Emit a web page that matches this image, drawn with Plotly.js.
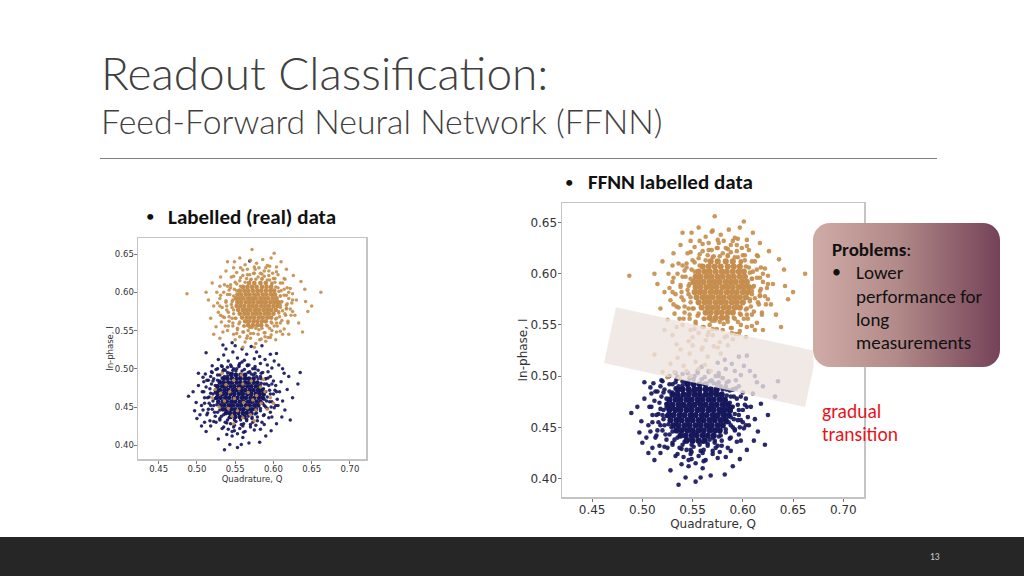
<!DOCTYPE html>
<html>
<head>
<meta charset="utf-8">
<script src="https://cdn.plot.ly/plotly-3.0.1.min.js"></script>
<style>
html,body{margin:0;padding:0;background:#fff;}
#chart{width:1024px;height:576px;}
</style>
</head>
<body>
<div id="chart"></div>
<script>
// ---------------- DATA ----------------
var xTicks = [0.45, 0.50, 0.55, 0.60, 0.65, 0.70];
var yTicks = [0.40, 0.45, 0.50, 0.55, 0.60, 0.65];

// Upper cloud (|1> state), dense core: orange in both labellings
var upperCore = [
 [0.568,0.612],[0.575,0.612],[0.583,0.612],[0.590,0.612],
 [0.560,0.607],[0.566,0.607],[0.572,0.607],[0.578,0.607],[0.585,0.607],[0.591,0.607],[0.597,0.607],
 [0.556,0.602],[0.562,0.602],[0.567,0.602],[0.573,0.602],[0.579,0.602],[0.584,0.602],[0.590,0.602],[0.596,0.602],[0.601,0.602],
 [0.553,0.597],[0.558,0.597],[0.564,0.597],[0.569,0.597],[0.575,0.597],[0.580,0.597],[0.586,0.597],[0.591,0.597],[0.597,0.597],[0.602,0.597],
 [0.551,0.592],[0.556,0.592],[0.561,0.592],[0.567,0.592],[0.572,0.592],[0.577,0.592],[0.583,0.592],[0.588,0.592],[0.593,0.592],[0.599,0.592],[0.604,0.592],
 [0.553,0.587],[0.558,0.587],[0.564,0.587],[0.569,0.587],[0.574,0.587],[0.580,0.587],[0.585,0.587],[0.590,0.587],[0.596,0.587],[0.601,0.587],[0.606,0.587],
 [0.552,0.582],[0.557,0.582],[0.562,0.582],[0.568,0.582],[0.573,0.582],[0.578,0.582],[0.584,0.582],[0.589,0.582],[0.594,0.582],[0.600,0.582],[0.605,0.582],
 [0.554,0.577],[0.560,0.577],[0.565,0.577],[0.570,0.577],[0.576,0.577],[0.581,0.577],[0.587,0.577],[0.592,0.577],[0.597,0.577],[0.603,0.577],
 [0.556,0.572],[0.562,0.572],[0.567,0.572],[0.573,0.572],[0.578,0.572],[0.583,0.572],[0.589,0.572],[0.594,0.572],[0.600,0.572],
 [0.559,0.567],[0.565,0.567],[0.570,0.567],[0.575,0.567],[0.581,0.567],[0.586,0.567],[0.592,0.567],[0.597,0.567],
 [0.563,0.562],[0.568,0.562],[0.574,0.562],[0.579,0.562],[0.585,0.562],[0.590,0.562],
 [0.567,0.557],[0.573,0.557],[0.579,0.557],[0.584,0.557]
];
// Upper cloud, rings around the core
var upperRing = [
 [0.610,0.587],[0.609,0.595],[0.607,0.601],[0.603,0.607],[0.598,0.612],[0.592,0.616],[0.585,0.618],[0.577,0.617],[0.570,0.616],[0.563,0.613],
 [0.557,0.608],[0.552,0.602],[0.548,0.595],[0.546,0.588],[0.546,0.580],[0.548,0.572],[0.551,0.566],[0.556,0.561],[0.562,0.556],[0.569,0.554],
 [0.577,0.553],[0.585,0.553],[0.592,0.556],[0.598,0.560],[0.604,0.566],[0.607,0.573],[0.609,0.580],
 [0.618,0.585],[0.617,0.596],[0.614,0.604],[0.609,0.612],[0.602,0.618],[0.594,0.622],[0.585,0.624],[0.575,0.625],[0.566,0.623],[0.557,0.619],
 [0.550,0.613],[0.544,0.606],[0.540,0.597],[0.538,0.587],[0.539,0.577],[0.542,0.568],[0.547,0.560],[0.553,0.553],[0.561,0.548],[0.570,0.546],
 [0.580,0.545],[0.589,0.547],[0.598,0.550],[0.605,0.556],[0.611,0.563],[0.615,0.572],[0.617,0.579],
 [0.625,0.590],[0.622,0.605],[0.615,0.617],[0.604,0.627],[0.590,0.632],[0.575,0.633],[0.560,0.629],[0.548,0.621],[0.536,0.610],[0.531,0.596],
 [0.530,0.582],[0.534,0.568],[0.541,0.556],[0.552,0.546],[0.565,0.540],[0.582,0.538],[0.596,0.541],[0.609,0.549],[0.619,0.560],[0.625,0.575]
];
// Upper cloud, outer scatter and tails
var upperPts = [
 [0.545,0.620],[0.552,0.626],[0.560,0.622],[0.566,0.630],[0.574,0.625],[0.581,0.632],[0.588,0.621],[0.594,0.628],[0.600,0.618],[0.606,0.623],[0.612,0.612],
 [0.556,0.615],[0.571,0.617],[0.585,0.617],[0.598,0.611],[0.563,0.636],[0.578,0.638],[0.592,0.635],[0.548,0.632],[0.604,0.633],[0.570,0.642],[0.586,0.643],
 [0.540,0.608],[0.535,0.600],[0.543,0.597],[0.538,0.589],[0.545,0.584],[0.533,0.580],[0.541,0.574],[0.546,0.566],[0.536,0.567],[0.530,0.592],[0.544,0.610],
 [0.528,0.574],[0.537,0.556],[0.547,0.556],[0.532,0.561],[0.526,0.600],
 [0.610,0.602],[0.614,0.596],[0.611,0.588],[0.617,0.583],[0.612,0.576],[0.620,0.592],[0.608,0.568],[0.616,0.570],[0.622,0.578],[0.609,0.560],[0.618,0.606],
 [0.625,0.598],[0.624,0.586],[0.614,0.552],[0.628,0.570],[0.619,0.562],[0.630,0.590],
 [0.553,0.551],[0.560,0.548],[0.567,0.550],[0.574,0.546],[0.581,0.551],[0.588,0.547],[0.595,0.553],[0.601,0.556],[0.556,0.542],[0.570,0.540],[0.584,0.539],
 [0.597,0.544],[0.563,0.535],[0.577,0.533],[0.590,0.536],[0.604,0.548],[0.548,0.545],[0.603,0.538],
 [0.549,0.604],[0.547,0.590],[0.548,0.577],[0.550,0.566],[0.555,0.559],[0.561,0.556],[0.591,0.557],[0.597,0.561],[0.603,0.565],[0.607,0.575],[0.609,0.583],
 [0.609,0.595],[0.606,0.606],[0.602,0.613],[0.595,0.616],[0.580,0.620],[0.565,0.618],[0.552,0.611],[0.542,0.603],[0.539,0.582],[0.542,0.562],[0.557,0.632],
 [0.576,0.630],[0.599,0.625],[0.614,0.618],[0.620,0.600],[0.623,0.570],[0.612,0.545],[0.593,0.541],[0.566,0.543],[0.550,0.538],[0.534,0.548],[0.530,0.608],
 [0.527,0.586],[0.531,0.570],[0.588,0.628],[0.583,0.625],[0.569,0.623],[0.617,0.578],[0.604,0.560],[0.540,0.550],[0.589,0.542],[0.572,0.554],[0.595,0.634],
 [0.549,0.640],
 [0.487,0.598],[0.662,0.600],[0.572,0.656],[0.601,0.651],[0.650,0.582],[0.645,0.575],[0.641,0.604],[0.636,0.614],[0.633,0.560],[0.638,0.548],
 [0.520,0.612],[0.515,0.590],[0.522,0.582],[0.518,0.566],[0.525,0.555],[0.531,0.620],[0.538,0.628],[0.540,0.640],[0.556,0.645],[0.597,0.645],
 [0.617,0.630],[0.626,0.622],[0.610,0.640],[0.522,0.545],[0.530,0.540],[0.620,0.545],[0.642,0.588],[0.512,0.600],[0.575,0.528],[0.560,0.528]
];

// Upper-region points truly labelled |0> (blue in real data, orange for the FFNN)
var upperBluePts = [[0.569,0.641],[0.534,0.531],[0.546,0.534]];

// Lower cloud (|0> state), dense core: blue in both labellings
var lowerCore = [
 [0.545,0.492],[0.551,0.492],[0.557,0.492],[0.563,0.492],
 [0.535,0.487],[0.540,0.487],[0.546,0.487],[0.552,0.487],[0.557,0.487],[0.563,0.487],[0.568,0.487],[0.574,0.487],
 [0.530,0.482],[0.535,0.482],[0.541,0.482],[0.546,0.482],[0.552,0.482],[0.557,0.482],[0.563,0.482],[0.568,0.482],[0.574,0.482],[0.579,0.482],
 [0.527,0.477],[0.533,0.477],[0.538,0.477],[0.544,0.477],[0.549,0.477],[0.555,0.477],[0.560,0.477],[0.566,0.477],[0.571,0.477],[0.577,0.477],[0.582,0.477],
 [0.525,0.472],[0.530,0.472],[0.536,0.472],[0.541,0.472],[0.547,0.472],[0.552,0.472],[0.558,0.472],[0.563,0.472],[0.569,0.472],[0.574,0.472],[0.580,0.472],[0.585,0.472],
 [0.527,0.467],[0.533,0.467],[0.538,0.467],[0.544,0.467],[0.549,0.467],[0.555,0.467],[0.560,0.467],[0.566,0.467],[0.571,0.467],[0.577,0.467],[0.582,0.467],[0.587,0.467],
 [0.526,0.462],[0.531,0.462],[0.537,0.462],[0.542,0.462],[0.548,0.462],[0.553,0.462],[0.559,0.462],[0.564,0.462],[0.570,0.462],[0.575,0.462],[0.581,0.462],[0.586,0.462],
 [0.528,0.457],[0.534,0.457],[0.539,0.457],[0.545,0.457],[0.550,0.457],[0.556,0.457],[0.561,0.457],[0.567,0.457],[0.572,0.457],[0.578,0.457],[0.583,0.457],
 [0.531,0.452],[0.536,0.452],[0.542,0.452],[0.547,0.452],[0.553,0.452],[0.558,0.452],[0.564,0.452],[0.569,0.452],[0.575,0.452],[0.580,0.452],
 [0.534,0.447],[0.539,0.447],[0.545,0.447],[0.550,0.447],[0.556,0.447],[0.561,0.447],[0.567,0.447],[0.572,0.447],[0.577,0.447],
 [0.538,0.442],[0.543,0.442],[0.549,0.442],[0.554,0.442],[0.560,0.442],[0.565,0.442],[0.571,0.442],
 [0.544,0.437],[0.550,0.437],[0.556,0.437],[0.562,0.437]
];
// Lower cloud, rings around the core
var lowerRing = [
 [0.588,0.466],[0.587,0.474],[0.584,0.481],[0.580,0.487],[0.574,0.492],[0.567,0.495],[0.559,0.497],[0.551,0.497],[0.543,0.494],[0.536,0.490],
 [0.530,0.484],[0.526,0.477],[0.524,0.469],[0.524,0.461],[0.526,0.453],[0.530,0.446],[0.535,0.440],[0.542,0.436],[0.549,0.433],[0.557,0.433],
 [0.565,0.434],[0.572,0.437],[0.578,0.442],[0.583,0.448],[0.586,0.455],[0.588,0.460],
 [0.596,0.467],[0.594,0.478],[0.590,0.487],[0.584,0.494],[0.576,0.500],[0.566,0.504],[0.555,0.505],[0.545,0.503],[0.535,0.499],[0.527,0.492],
 [0.521,0.484],[0.517,0.474],[0.516,0.463],[0.518,0.452],[0.523,0.443],[0.530,0.435],[0.539,0.429],[0.549,0.426],[0.560,0.425],[0.570,0.427],
 [0.579,0.432],[0.587,0.439],[0.592,0.448],[0.595,0.457],
 [0.604,0.470],[0.600,0.484],[0.593,0.496],[0.509,0.470],[0.510,0.455],[0.514,0.442],[0.522,0.431],[0.533,0.422],[0.546,0.418],[0.561,0.417],
 [0.575,0.420],[0.588,0.427],[0.598,0.437],[0.603,0.452],[0.513,0.485],[0.519,0.496]
];
// Lower cloud, outer scatter and tails
var lowerPts = [
 [0.520,0.495],[0.527,0.500],[0.534,0.497],[0.540,0.502],[0.547,0.498],[0.555,0.503],[0.562,0.499],[0.569,0.496],[0.576,0.494],[0.583,0.490],[0.590,0.487],
 [0.530,0.492],[0.566,0.505],[0.559,0.509],[0.540,0.495],
 [0.515,0.485],[0.512,0.476],[0.518,0.468],[0.510,0.462],[0.516,0.455],[0.520,0.447],[0.513,0.440],[0.519,0.480],[0.507,0.470],[0.521,0.458],[0.506,0.452],
 [0.502,0.478],[0.511,0.493],[0.524,0.438],[0.517,0.432],
 [0.591,0.480],[0.595,0.472],[0.592,0.463],[0.598,0.457],[0.590,0.450],[0.596,0.443],[0.588,0.440],[0.600,0.467],[0.603,0.478],[0.605,0.460],[0.593,0.488],
 [0.608,0.470],[0.601,0.449],[0.610,0.483],[0.612,0.458],
 [0.530,0.433],[0.537,0.430],[0.544,0.428],[0.551,0.431],[0.558,0.427],[0.565,0.432],[0.572,0.435],[0.579,0.437],[0.541,0.421],[0.549,0.419],[0.556,0.422],
 [0.563,0.418],[0.570,0.424],[0.585,0.430],[0.535,0.424],[0.577,0.426],[0.546,0.412],[0.560,0.410],
 [0.522,0.487],[0.524,0.478],[0.521,0.467],[0.522,0.452],[0.527,0.443],[0.532,0.438],[0.540,0.433],[0.567,0.438],[0.576,0.441],[0.583,0.445],[0.588,0.452],
 [0.591,0.458],[0.590,0.470],[0.588,0.480],[0.584,0.487],[0.578,0.490],[0.571,0.493],[0.540,0.491],[0.533,0.488],[0.527,0.485],[0.514,0.462],[0.515,0.447],
 [0.525,0.430],[0.548,0.424],[0.561,0.428],[0.573,0.430],[0.594,0.436],[0.597,0.450],[0.598,0.480],[0.596,0.490],[0.586,0.495],[0.546,0.494],[0.533,0.503],
 [0.518,0.490],[0.509,0.483],[0.508,0.446],[0.583,0.421],[0.553,0.415],[0.539,0.414],[0.602,0.472],[0.606,0.452],[0.552,0.500],[0.573,0.500],[0.580,0.498],
 [0.510,0.430],
 [0.489,0.464],[0.497,0.445],[0.499,0.456],[0.504,0.440],[0.500,0.435],[0.506,0.425],[0.512,0.418],[0.635,0.495],[0.632,0.480],[0.622,0.433],
 [0.615,0.446],[0.618,0.473],[0.625,0.462],[0.620,0.490],[0.536,0.394],[0.543,0.401],[0.558,0.401],[0.568,0.403],[0.582,0.404],[0.597,0.419],
 [0.604,0.428],[0.528,0.408],[0.518,0.425],[0.495,0.470],[0.553,0.397],[0.590,0.412],[0.611,0.437],[0.508,0.489],[0.502,0.494],[0.614,0.494]
];

// Lower-cloud points truly labelled |1> (orange in real data, blue for the FFNN)
var lowerMixPts = [
 [0.538,0.479],[0.548,0.485],[0.560,0.480],[0.571,0.484],[0.583,0.476],[0.531,0.468],[0.543,0.470],[0.555,0.474],[0.567,0.469],[0.578,0.465],
 [0.589,0.470],[0.536,0.458],[0.549,0.461],[0.561,0.456],[0.573,0.459],[0.584,0.455],[0.541,0.448],[0.553,0.445],[0.566,0.449],[0.577,0.446],
 [0.546,0.438],[0.560,0.436],[0.529,0.450],[0.596,0.462],[0.524,0.473],[0.558,0.492],[0.592,0.447],[0.570,0.440],
 [0.520,0.462],[0.533,0.494],[0.587,0.486],[0.600,0.455],[0.548,0.428],[0.575,0.432]
];

// Gap points: blue in real data, orange for the FFNN
var gapPts = [
 [0.528,0.512],[0.535,0.518],[0.541,0.510],[0.547,0.522],[0.553,0.514],[0.559,0.526],[0.565,0.519],[0.571,0.529],[0.538,0.526],[0.544,0.505],
 [0.556,0.507],[0.520,0.504],[0.525,0.499],[0.532,0.504],[0.562,0.511],[0.568,0.505],[0.550,0.530],[0.578,0.522],[0.512,0.521],[0.585,0.530],
 [0.548,0.500],[0.537,0.498]
];

// Gap points: blue in both labellings
var gapBluePts = [
 [0.575,0.513],[0.582,0.516],[0.589,0.512],[0.596,0.519],[0.601,0.510],[0.592,0.505],[0.583,0.507],[0.607,0.505],[0.612,0.500],[0.576,0.503],
 [0.604,0.520],[0.598,0.501]
];

// ---------------- BUILD ----------------
var ORANGE = '#c68e4e', BLUE = '#17175c';
function xs(a){return a.map(function(p){return p[0];});}
function ys(a){return a.map(function(p){return p[1];});}
function cat(){var r=[];for(var k=0;k<arguments.length;k++){r=r.concat(arguments[k]);}return r;}

var realOrange = cat(upperRing, upperPts, lowerMixPts);
var realBlue   = cat(lowerRing, lowerPts, gapPts, gapBluePts, upperBluePts);
var ffnnOrange = cat(upperRing, upperPts, gapPts, upperBluePts);
var ffnnBlue   = cat(lowerRing, lowerPts, lowerMixPts, gapBluePts);

function tr(pts, color, size, op, xa, ya){
  return {type:'scatter', mode:'markers', x:xs(pts), y:ys(pts), xaxis:xa, yaxis:ya,
    marker:{color:color, size:size, opacity:op, line:{width:0}}, hoverinfo:'skip', showlegend:false};
}
var traces = [
  tr(lowerCore, BLUE, 4.8, 1, 'x', 'y'),
  tr(realBlue, BLUE, 3.5, 0.92, 'x', 'y'),
  tr(upperCore, ORANGE, 4.8, 1, 'x', 'y'),
  tr(realOrange, ORANGE, 3.5, 0.92, 'x', 'y'),
  tr(lowerCore, BLUE, 6.2, 1, 'x2', 'y2'),
  tr(ffnnBlue, BLUE, 4.6, 0.92, 'x2', 'y2'),
  tr(upperCore, ORANGE, 6.2, 1, 'x2', 'y2'),
  tr(ffnnOrange, ORANGE, 4.6, 0.92, 'x2', 'y2')
];

function px(x){return x/1024;}
function py(y){return 1-y/576;}

var TXT = 'Carlito, Lato, "Open Sans", sans-serif';
var LIGHT = '"Lato Light", "Lato", sans-serif';
var MPL = '"DejaVu Sans", sans-serif';

function axisCommon(fs){
  return {showgrid:false, zeroline:false, showline:true, mirror:true, linecolor:'#c4c4c4', linewidth:1.5,
    ticks:'outside', ticklen:3, tickcolor:'#777', tickwidth:1, ticklabelstandoff:-2,
    tickfont:{family:MPL, size:fs, color:'#333'}, tickformat:'.2f', fixedrange:true};
}
var xa1 = Object.assign(axisCommon(8.5), {domain:[px(138),px(366)], range:[0.423,0.721], tickvals:xTicks, anchor:'y',
  title:{text:'Quadrature, Q', font:{family:MPL,size:8.5,color:'#333'}, standoff:0}});
var ya1 = Object.assign(axisCommon(8.5), {domain:[py(459),py(238)], range:[0.382,0.671], tickvals:yTicks, anchor:'x',
  title:{text:'In-phase, I', font:{family:MPL,size:8.5,color:'#333'}, standoff:0}});
var xa2 = Object.assign(axisCommon(12), {domain:[px(562),px(864)], range:[0.420,0.7206], tickvals:xTicks, anchor:'y2',
  title:{text:'Quadrature, Q', font:{family:MPL,size:12,color:'#333'}, standoff:0}});
var ya2 = Object.assign(axisCommon(12), {domain:[py(497),py(203)], range:[0.382,0.669], tickvals:yTicks, anchor:'x2',
  title:{text:'In-phase, I', font:{family:MPL,size:12,color:'#333'}, standoff:0}});

// gradient "Problems" box as an SVG image
var boxSvg = "<svg xmlns='http://www.w3.org/2000/svg' width='187' height='144' viewBox='0 0 187 144'>" +
  "<defs><linearGradient id='g' x1='0' y1='0' x2='1' y2='0'>" +
  "<stop offset='0' stop-color='#cfaba6'/><stop offset='0.45' stop-color='#b28a89'/><stop offset='1' stop-color='#744257'/>" +
  "</linearGradient></defs><rect x='0' y='0' width='187' height='144' rx='17' ry='17' fill='url(#g)'/></svg>";
var boxUri = 'data:image/svg+xml;charset=utf-8,' + encodeURIComponent(boxSvg);

function P(x,y){return px(x).toFixed(5)+','+py(y).toFixed(5);}
var bandPath = 'M'+P(616,307.3)+' L'+P(813,350.4)+' L'+P(813.6,367)+' L'+P(805,407)+' L'+P(604,363)+' Z';

var shapes = [
  {type:'line', xref:'paper', yref:'paper', x0:px(100), x1:px(937), y0:py(158.5), y1:py(158.5), line:{color:'#7f7f7f', width:1}},
  {type:'path', xref:'paper', yref:'paper', path:bandPath, fillcolor:'rgba(238,227,224,0.8)', line:{width:0}, layer:'above'},
  {type:'rect', xref:'paper', yref:'paper', x0:0, x1:1, y0:0, y1:py(537), fillcolor:'#262626', line:{width:0}, layer:'above'}
];

function ann(text, x, y, size, opts){
  var a = {text:text, x:px(x), y:py(y), xref:'paper', yref:'paper', xanchor:'left', yanchor:'middle', showarrow:false,
    font:{family:TXT, size:size, color:'#111'}};
  if(opts){ for(var k in opts){ if(k==='color'){a.font.color=opts[k];} else if(k==='weight'){a.font.weight=opts[k];} else if(k==='family'){a.font.family=opts[k];} else {a[k]=opts[k];} } }
  return a;
}
var annotations = [
  ann('Readout Classification:', 99, 72, 46, {color:'#404040', weight:300, family:LIGHT}),
  ann('Feed-Forward Neural Network (FFNN)', 99, 121, 33.8, {color:'#404040', weight:300, family:LIGHT}),
  ann('•', 144, 216.5, 17),
  ann('<b>Labelled (real) data</b>', 166, 216.5, 21),
  ann('•', 563, 182, 17),
  ann('<b>FFNN labelled data</b>', 586, 182, 21),
  ann('<b>Problems</b>:', 830, 249, 19),
  ann('•', 830, 272, 18),
  ann('Lower', 854, 272, 19),
  ann('performance for', 854, 296, 19),
  ann('long', 854, 319, 19),
  ann('measurements', 854, 342, 19),
  ann('gradual', 820, 411, 19.5, {color:'#e8141c'}),
  ann('transition', 820, 433.5, 19.5, {color:'#e8141c'}),
  ann('13', 935, 557, 9.5, {color:'#cfcfcf', xanchor:'center'})
];

var layout = {
  width:1024, height:576, margin:{l:0,r:0,t:0,b:0}, paper_bgcolor:'#ffffff', plot_bgcolor:'#ffffff',
  showlegend:false, xaxis:xa1, yaxis:ya1, xaxis2:xa2, yaxis2:ya2,
  shapes:shapes, annotations:annotations,
  images:[{source:boxUri, xref:'paper', yref:'paper', x:px(813), y:py(223), sizex:187/1024, sizey:144/576,
    xanchor:'left', yanchor:'top', sizing:'stretch', layer:'above'}]
};

Plotly.newPlot('chart', traces, layout, {staticPlot:true, displayModeBar:false});
</script>
</body>
</html>
